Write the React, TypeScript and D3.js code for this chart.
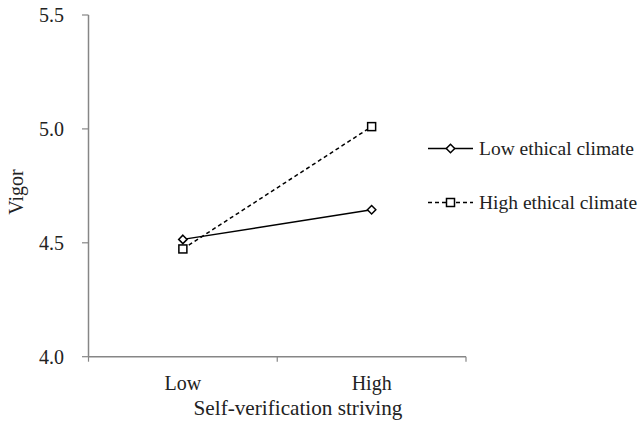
import React from "react";
import * as d3 from "d3";

const categories = ["Low", "High"];
const lowEthical = [4.515, 4.645];
const highEthical = [4.473, 5.01];
const yTicks = [4.0, 4.5, 5.0, 5.5];
const seriesNames = ["Low ethical climate", "High ethical climate"];

const W = 638, H = 427;

export default function App() {
  const x = d3.scaleBand<string>().domain(categories).range([88.5, 466]);
  const y = d3.scaleLinear().domain([4.0, 5.5]).range([356.7, 15]);
  const cx = (c: string) => (x(c) as number) + x.bandwidth() / 2;
  const line = d3.line<number>().x((_, i) => cx(categories[i])).y((v) => y(v));
  const axisColor = "#868686";

  const diamond = (px: number, py: number, k: string) => (
    <path key={k} d={`M${px},${py - 4.2}L${px + 4.2},${py}L${px},${py + 4.2}L${px - 4.2},${py}Z`} fill="white" stroke="black" strokeWidth={1.5} />
  );
  const square = (px: number, py: number, k: string) => (
    <rect key={k} x={px - 4} y={py - 4} width={8} height={8} fill="white" stroke="black" strokeWidth={1.5} />
  );

  const bounds = [88.5, x("High") as number, 466];
  const T = (props: any) => (
    <text fontFamily="Liberation Serif" fill="#222" {...props} style={{ fontFamily: '"Liberation Serif"' }} />
  );

  return (
    <svg width={W} height={H} style={{ position: "absolute", left: 0, top: 0 }}>
      <rect width={W} height={H} fill="white" />
      <line x1={88.5} x2={88.5} y1={y(5.5)} y2={y(4.0)} stroke={axisColor} strokeWidth={1.5} />
      {yTicks.map((t) => (
        <g key={t}>
          <line x1={82} x2={88.5} y1={y(t)} y2={y(t)} stroke={axisColor} strokeWidth={1.2} />
          <T x={64} y={y(t)} dy="0.35em" textAnchor="end" fontSize={20}>{t.toFixed(1)}</T>
        </g>
      ))}
      <line x1={88.5} x2={466} y1={y(4.0)} y2={y(4.0)} stroke={axisColor} strokeWidth={1.5} />
      {bounds.map((b, i) => (
        <line key={i} x1={b} x2={b} y1={y(4.0)} y2={y(4.0) + 5} stroke={axisColor} strokeWidth={1.2} />
      ))}
      {categories.map((c) => (
        <T key={c} x={cx(c)} y={390} textAnchor="middle" fontSize={20}>{c}</T>
      ))}
      <T x={298} y={415} textAnchor="middle" fontSize={21.2}>Self-verification striving</T>
      <T transform={`translate(23,192) rotate(-90)`} textAnchor="middle" fontSize={20}>Vigor</T>

      <path d={line(highEthical) as string} fill="none" stroke="black" strokeWidth={1.5} strokeDasharray="4,3" />
      <path d={line(lowEthical) as string} fill="none" stroke="black" strokeWidth={1.5} />
      {highEthical.map((v, i) => square(cx(categories[i]), y(v), "s" + i))}
      {lowEthical.map((v, i) => diamond(cx(categories[i]), y(v), "d" + i))}

      <line x1={428} x2={473} y1={148.5} y2={148.5} stroke="black" strokeWidth={1.5} />
      {diamond(450.5, 148.5, "ld")}
      <T x={479} y={148.5} dy="0.33em" fontSize={19.5}>{seriesNames[0]}</T>
      <line x1={428} x2={473} y1={202.5} y2={202.5} stroke="black" strokeWidth={1.5} strokeDasharray="4,3" />
      {square(450.5, 202.5, "ls")}
      <T x={479} y={202.5} dy="0.33em" fontSize={19.5}>{seriesNames[1]}</T>
    </svg>
  );
}
